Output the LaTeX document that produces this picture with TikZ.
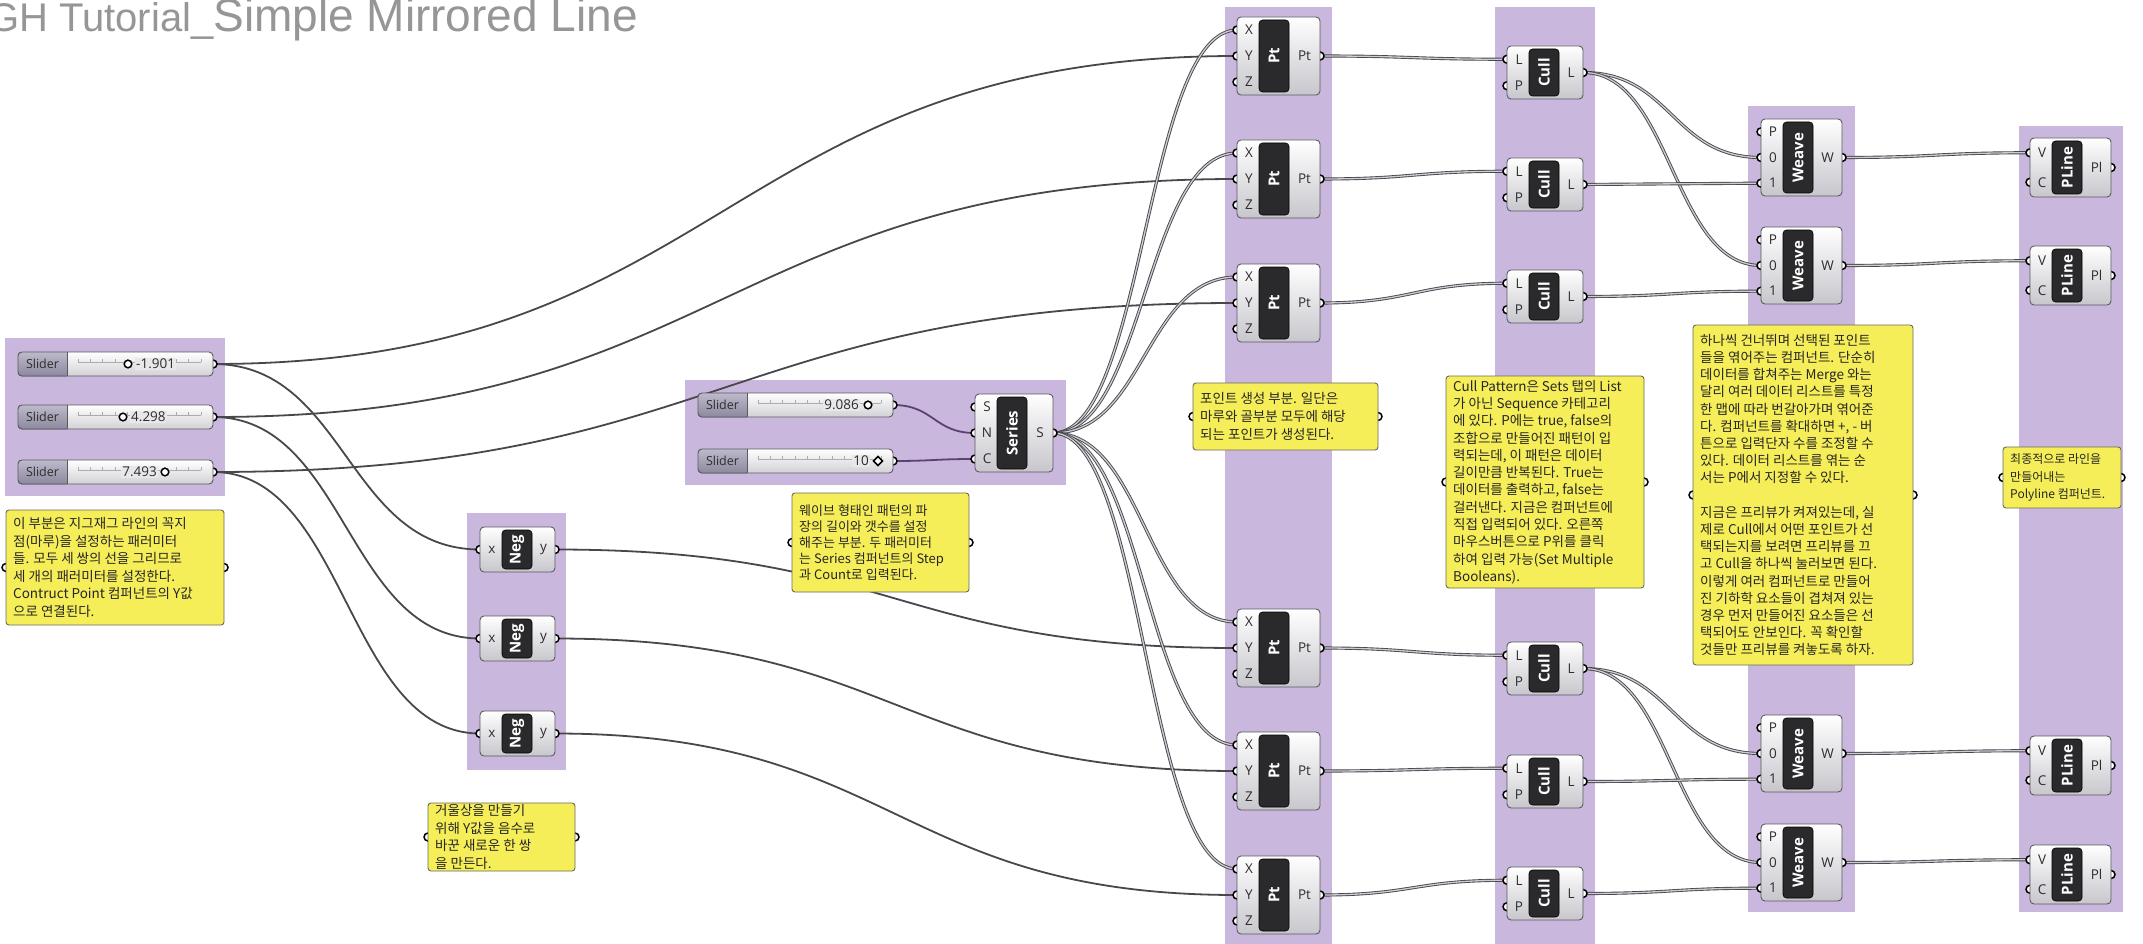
\documentclass[tikz,border=0pt]{standalone}
\usepackage{fontspec}
\setmainfont{Open Sans}
\newfontfamily\krfont{Noto Sans CJK KR}
\newfontfamily\titlefont{Liberation Sans}
\usetikzlibrary{calc}
\definecolor{ghgroup}{RGB}{201,183,221}
\definecolor{ghedge}{RGB}{90,90,95}
\definecolor{ghbodybot}{RGB}{198,198,204}
\definecolor{ghdark}{RGB}{42,42,44}
\definecolor{ghtext}{RGB}{45,45,45}
\definecolor{notefill}{RGB}{246,238,88}
\definecolor{noteedge}{RGB}{105,105,95}
\definecolor{tabtop}{RGB}{190,186,204}
\definecolor{tabbot}{RGB}{140,136,158}
\definecolor{trackgray}{RGB}{170,170,176}
\definecolor{valbg}{RGB}{232,232,235}
\definecolor{wiredark}{RGB}{72,72,76}
\definecolor{wirelight}{RGB}{205,203,212}
\definecolor{serwire}{RGB}{92,66,112}
\definecolor{titlegray}{RGB}{150,150,150}

\pgfdeclarelayer{bg}
\pgfdeclarelayer{wires}
\pgfsetlayers{bg,wires,main}

\tikzset{
  port/.style={draw=black, line width=1.5pt, fill=white},
  ghbody/.style={draw=ghedge, line width=0.9pt, rounded corners=4pt, top color=white, bottom color=ghbodybot, inner sep=0pt, outer sep=0pt},
  ghlabelbox/.style={fill=ghdark, draw=black, line width=0.6pt, rounded corners=3.5pt, inner sep=0pt, outer sep=0pt},
  ghlabel/.style={text=white, font=\bfseries\fontsize{15}{15}\selectfont, rotate=90, inner sep=0pt},
  portlbl/.style={text=ghtext, font=\fontsize{13.5}{13.5}\selectfont, inner sep=0pt},
  sliderbody/.style={draw=ghedge, line width=0.9pt, rounded corners=4pt, top color=white, bottom color=ghbodybot!80, minimum width=195pt, minimum height=24pt, inner sep=0pt, outer sep=0pt},
  slidertab/.style={draw=ghedge, line width=0.9pt, top color=tabtop, bottom color=tabbot},
  tablbl/.style={text=ghtext, font=\fontsize{12.5}{12.5}\selectfont, inner sep=0pt},
  sliderval/.style={text=ghtext, font=\fontsize{13.5}{13.5}\selectfont, fill=valbg, inner sep=1pt},
  track/.style={draw=trackgray, line width=0.6pt},
  grip/.style={draw=black, line width=1.5pt, fill=white},
  notebox/.style={fill=notefill, draw=noteedge, line width=0.9pt, rounded corners=3pt, inner sep=0pt, outer sep=0pt},
  notetext/.style={text=black!85, align=left, inner sep=0pt},
  ghgroupfill/.style={fill=ghgroup},
  itemwire/.style={draw=wiredark, line width=1.8pt},
  serieswire/.style={draw=serwire, line width=1.8pt},
  listwire/.style={draw=wiredark, double=wirelight, double distance=1.3pt, line width=0.9pt},
  titletext/.style={text=titlegray, font=\titlefont, inner sep=0pt},
}

% component: name, left, top, width, height, label, inputs, output
\newcommand{\ghcomp}[8]{%
  \def\ghn{0}%
  \foreach \p in {#7}{\pgfmathtruncatemacro\ghm{\ghn+1}\xdef\ghn{\ghm}}%
  \foreach \p [count=\i] in {#7}{%
    \coordinate (#1-in\i) at (#2,{#3+(\i-0.5)*#5/\ghn});
    \draw[port] (#1-in\i) circle (4pt);
  }
  \coordinate (#1-o) at ({#2+#4},{#3+#5/2});
  \draw[port] (#1-o) circle (4pt);
  \node[ghbody, minimum width=#4pt, minimum height=#5pt, anchor=north west] (#1) at (#2,#3) {};
  \foreach \p [count=\i] in {#7}{%
    \node[portlbl] (#1-l\i) at ({#2+12},{#3+(\i-0.5)*#5/\ghn}) {\p};
  }
  \node[ghlabelbox, minimum width=30pt, minimum height={#5pt-6pt}, anchor=north west] (#1-box) at ({#2+22},{#3+3}) {};
  \node[ghlabel] (#1-name) at (#1-box.center) {#6};
  \node[portlbl] (#1-lo) at ({(#2+52+#2+#4)/2},{#3+#5/2}) {#8};
}

% slider: name, left, top, value, grip x, value anchor, value x, grip (0 circle, 1 diamond)
\newcommand{\ghslider}[8]{%
  \coordinate (#1-o) at ({#2+195},{#3+12});
  \draw[port] (#1-o) circle (4pt);
  \node[sliderbody, anchor=north west] (#1) at (#2,#3) {};
  \begin{scope}
    \clip (#2,#3) rectangle ({#2+49},{#3+24});
    \draw[slidertab, rounded corners=4pt] (#2,#3) rectangle ({#2+195},{#3+24});
  \end{scope}
  \draw[draw=ghedge, line width=0.9pt] ({#2+49},#3) -- ({#2+49},{#3+24});
  \node[tablbl] (#1-tab) at ({#2+24.5},{#3+12}) {Slider};
  \draw[track] ({#2+60},{#3+10}) -- ({#2+183},{#3+10});
  \foreach \t in {0,...,10} \draw[track] ({#2+60+\t*12.3},{#3+10}) -- ++(0,-3);
  \node[sliderval, anchor=#6] (#1-val) at (#7,{#3+12}) {#4};
  \ifnum#8=0
    \draw[grip] (#5,{#3+12}) circle (3.8pt);
  \else
    \draw[grip] ({#5-4.5},{#3+12}) -- (#5,{#3+7.5}) -- ({#5+4.5},{#3+12}) -- (#5,{#3+16.5}) -- cycle;
  \fi
}

% panel: name, left, top, right, bottom, text, font size
\newcommand{\ghnote}[7]{%
  \draw[port] (#2,{(#3+#5)/2}) circle (4pt);
  \draw[port] (#4,{(#3+#5)/2}) circle (4pt);
  \node[notebox, minimum width={(#4-#2)*1pt}, minimum height={(#5-#3)*1pt}, anchor=north west] (#1) at (#2,#3) {};
  \node[notetext, font={\krfont\fontsize#7\selectfont}, anchor=west] (#1-txt) at ([xshift=7pt]#1.west) {#6};
}

% wire: style, from, to (horizontal tangents at both ends)
\newcommand{\ghwire}[3]{%
  \coordinate (wm) at ($(#2)!0.5!(#3)$);
  \draw[#1] (#2) .. controls (wm |- #2) and (wm |- #3) .. (#3);
}

\begin{document}
\begin{tikzpicture}[x=1pt,y=-1pt]
  \path[use as bounding box] (0,0) rectangle (2143,944);
  % Groups
  \begin{pgfonlayer}{bg}
    \fill[white] (0,0) rectangle (2143,944);
    \fill[ghgroupfill] (5,338) rectangle (225,496);
    \fill[ghgroupfill] (467,513) rectangle (566,770);
    \fill[ghgroupfill] (685,380) rectangle (1066,485);
    \fill[ghgroupfill] (1225,7) rectangle (1332,944);
    \fill[ghgroupfill] (1495,7) rectangle (1595,944);
    \fill[ghgroupfill] (1748,106) rectangle (1855,912);
    \fill[ghgroupfill] (2019,126) rectangle (2123,912);
  \end{pgfonlayer}
  % Title
  \node[titletext, anchor=base west] (title) at (-12,32) {\fontsize{40}{40}\selectfont GH Tutorial\_\fontsize{46}{46}\selectfont Simple Mirrored Line};

  % Sliders
  \ghslider{s1}{18}{352}{-1.901}{128}{west}{135}{0}
  \ghslider{s2}{18}{405}{4.298}{123}{west}{130}{0}
  \ghslider{s3}{18}{460}{7.493}{165}{east}{158}{0}
  \ghslider{s4}{698}{393}{9.086}{868}{east}{860}{0}
  \ghslider{s5}{698}{449}{10}{878}{east}{870}{1}

  % Negative
  \foreach \k/\t in {1/527,2/616,3/711}{\ghcomp{neg\k}{480}{\t}{75}{45}{Neg}{x}{y}}
  % Series
  \ghcomp{ser}{975}{394}{78}{78}{Series}{S,N,C}{S}
  % Points
  \foreach \k/\t in {1/17,2/140,3/264,4/609,5/732,6/856}{\ghcomp{pt\k}{1237}{\t}{83}{78}{Pt}{X,Y,Z}{Pt}}
  % Cull
  \foreach \k/\t in {1/46,2/158,3/270,4/642,5/755,6/867}{\ghcomp{cull\k}{1507}{\t}{76}{53}{Cull}{L,P}{L}}
  % Weave
  \foreach \k/\t in {1/119,2/227,3/715,4/824}{\ghcomp{wv\k}{1761}{\t}{81}{77}{Weave}{P,0,1}{W}}
  % Polyline
  \foreach \k/\t in {1/138,2/246,3/736,4/845}{\ghcomp{pl\k}{2030}{\t}{81}{59}{PLine}{V,C}{Pl}}

  % Panels
  \ghnote{nsl}{6}{510}{224}{625}{이 부분은 지그재그 라인의 꼭지\\점(마루)을 설정하는 패러미터\\들. 모두 세 쌍의 선을 그리므로\\세 개의 패러미터를 설정한다.\\Contruct Point 컴퍼넌트의 Y값\\으로 연결된다.}{{13.5}{17.5}}
  \ghnote{nneg}{428}{803}{575}{871}{거울상을 만들기\\위해 Y값을 음수로\\바꾼 새로운 한 쌍\\을 만든다.}{{13.5}{17.5}}
  \ghnote{nser}{792}{493}{969}{592}{웨이브 형태인 패턴의 파\\장의 길이와 갯수를 설정\\해주는 부분. 두 패러미터\\는 Series 컴퍼넌트의 Step\\과 Count로 입력된다.}{{13}{16}}
  \ghnote{npt}{1193}{383}{1378}{450}{포인트 생성 부분. 일단은\\마루와 골부분 모두에 해당\\되는 포인트가 생성된다.}{{13.5}{18}}
  \ghnote{ncull}{1446}{376}{1644}{588}{Cull Pattern은 Sets 탭의 List\\가 아닌 Sequence 카테고리\\에 있다. P에는 true, false의\\조합으로 만들어진 패턴이 입\\력되는데, 이 패턴은 데이터\\길이만큼 반복된다. True는\\데이터를 출력하고, false는\\걸러낸다. 지금은 컴퍼넌트에\\직접 입력되어 있다. 오른쪽\\마우스버튼으로 P위를 클릭\\하여 입력 가능(Set Multiple\\Booleans).}{{13.5}{17.3}}
  \ghnote{nwv}{1693}{325}{1913}{665}{하나씩 건너뛰며 선택된 포인트\\들을 엮어주는 컴퍼넌트. 단순히\\데이터를 합쳐주는 Merge 와는\\달리 여러 데이터 리스트를 특정\\한 맵에 따라 번갈아가며 엮어준\\다. 컴퍼넌트를 확대하면 +, - 버\\튼으로 입력단자 수를 조정할 수\\있다. 데이터 리스트를 엮는 순\\서는 P에서 지정할 수 있다.\\[17.2pt]지금은 프리뷰가 켜져있는데, 실\\제로 Cull에서 어떤 포인트가 선\\택되는지를 보려면 프리뷰를 끄\\고 Cull을 하나씩 눌러보면 된다.\\이렇게 여러 컴퍼넌트로 만들어\\진 기하학 요소들이 겹쳐져 있는\\경우 먼저 만들어진 요소들은 선\\택되어도 안보인다. 꼭 확인할\\것들만 프리뷰를 켜놓도록 하자.}{{13.5}{17.2}}
  \ghnote{npl}{2003}{447}{2121}{508}{최종적으로 라인을\\만들어내는\\Polyline 컴퍼넌트.}{{12}{17.5}}

  % Wires
  \begin{pgfonlayer}{wires}
    \foreach \k in {1,2,3}{
      \ghwire{itemwire}{s\k-o}{pt\k-in2}
      \ghwire{itemwire}{s\k-o}{neg\k-in1}
    }
    \foreach \k/\m in {1/4,2/5,3/6}{\ghwire{itemwire}{neg\k-o}{pt\m-in2}}
    \ghwire{serieswire}{s4-o}{ser-in2}
    \ghwire{serieswire}{s5-o}{ser-in3}
    \foreach \k in {1,...,6}{
      \ghwire{listwire}{ser-o}{pt\k-in1}
      \ghwire{listwire}{pt\k-o}{cull\k-in1}
    }
    \foreach \c/\w/\i in {1/1/2,1/2/2,2/1/3,3/2/3,4/3/2,4/4/2,5/3/3,6/4/3}{\ghwire{listwire}{cull\c-o}{wv\w-in\i}}
    \foreach \k in {1,...,4}{\ghwire{listwire}{wv\k-o}{pl\k-in1}}
  \end{pgfonlayer}
\end{tikzpicture}
\end{document}
